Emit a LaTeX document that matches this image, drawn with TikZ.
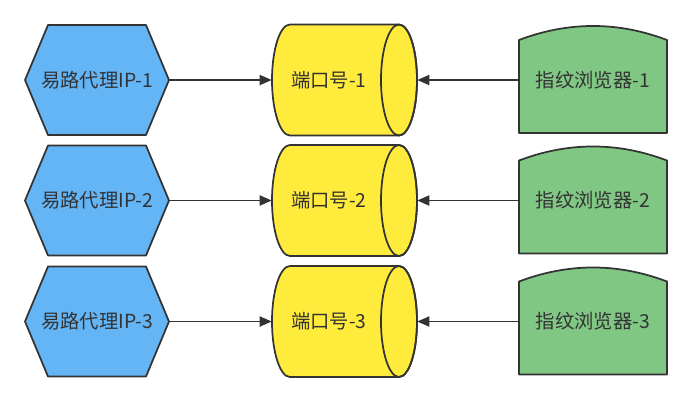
\documentclass[tikz,border=0pt]{standalone}
\usepackage{fontspec}
\setmainfont{Noto Sans CJK SC}
\usetikzlibrary{arrows.meta}
\definecolor{hexblue}{HTML}{64B5F6}
\definecolor{cylyellow}{HTML}{FFEB3B}
\definecolor{tabgreen}{HTML}{81C784}
\definecolor{ink}{HTML}{333333}
\tikzset{
  outline/.style={draw=ink, line width=1.3pt, line join=round},
  area/.style={draw=none, inner sep=0pt, rectangle},
  txt/.style={text=ink, font=\fontsize{14.5}{17}\selectfont, inner sep=0pt},
  link/.style={draw=ink, line width=1.3pt, -{Triangle[length=9pt,width=7.5pt]}},
}
\begin{document}
\begin{tikzpicture}[x=0.75pt,y=-0.75pt]
\useasboundingbox (0,0) rectangle (691,401);
\foreach \i/\y in {1/80,2/200.5,3/321.5}{
  \begin{scope}[shift={(0,\y)}]
    % hexagon
    \draw[outline, fill=hexblue] (25,0) -- (48,-55) -- (146,-55) -- (169,0) -- (146,55) -- (48,55) -- cycle;
    \node[area, txt, minimum width=108pt, minimum height=82.5pt] (h\i) at (97,0) {易路代理IP-\i};
    % cylinder
    \draw[outline, fill=cylyellow] (290,-55.5) -- (399,-55.5)
      arc[start angle=-90, end angle=90, x radius=18, y radius=55.5]
      -- (290,55.5)
      arc[start angle=90, end angle=270, x radius=18, y radius=55.5] -- cycle;
    \draw[outline] (399,0) ellipse [x radius=18, y radius=55.5];
    \node[area, minimum width=108.75pt, minimum height=83.25pt] (c\i) at (344.5,0) {};
    \node[txt] (t\i) at (329,0) {端口号-\i};
    % tab shape
    \draw[outline, fill=tabgreen] (519,53) -- (519,-40)
      .. controls (568.3,-58.7) and (617.7,-58.7) .. (667,-40) -- (667,53) -- cycle;
    \node[area, txt, minimum width=111pt, minimum height=79.5pt] (g\i) at (593,0) {指纹浏览器-\i};
  \end{scope}
  \draw[link] (h\i) -- (c\i);
  \draw[link] (g\i) -- (c\i);
}
\end{tikzpicture}
\end{document}
